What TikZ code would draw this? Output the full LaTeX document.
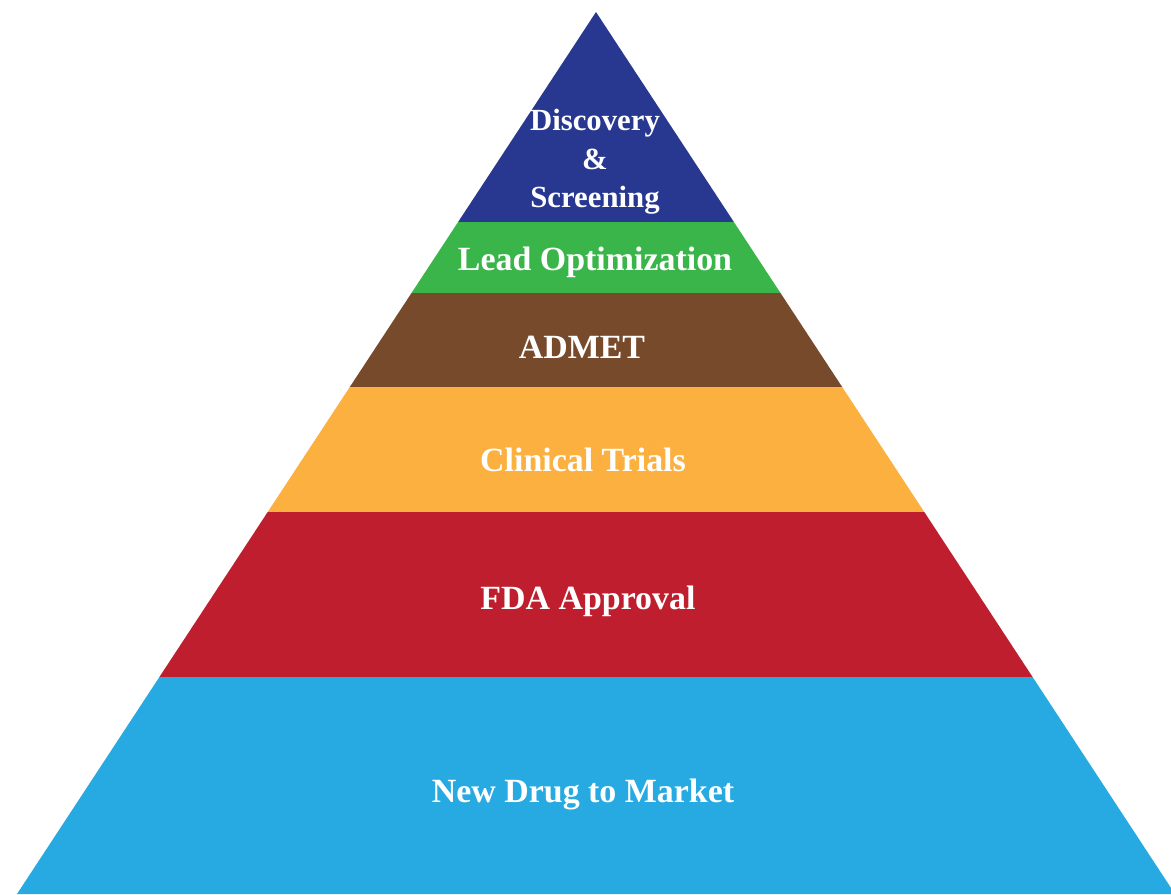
\documentclass[tikz,border=0pt]{standalone}
\usepackage{fontspec}
\setmainfont{Liberation Serif}
\definecolor{discblue}{HTML}{283891}
\definecolor{leadgreen}{HTML}{3AB54A}
\definecolor{admetbrown}{HTML}{774A2B}
\definecolor{trialorange}{HTML}{FBB040}
\definecolor{fdared}{HTML}{BE1E2D}
\definecolor{marketblue}{HTML}{27AAE1}

\begin{document}
\begin{tikzpicture}[x=0.02cm, y=-0.02cm,
    label/.style = {text=white, font=\bfseries\fontsize{19.3}{22}\selectfont, align=center},
    toplabel/.style = {label, font=\bfseries\fontsize{17.5}{21}\selectfont}]
      \useasboundingbox (0,0) rectangle (1171,894);
      \begin{scope}
      \clip (0,0) rectangle (1171,894);
      % layers of the pyramid, top to bottom
      \fill[discblue] (596,12) -- (733.9,222) -- (458.1,222) -- cycle;
      \fill[leadgreen] (458.1,222) -- (733.9,222) -- (780.5,293) -- (411.5,293) -- cycle;
      \fill[admetbrown] (411.5,293) -- (780.5,293) -- (842.2,387) -- (349.8,387) -- cycle;
      \fill[trialorange] (349.8,387) -- (842.2,387) -- (924.3,512) -- (267.7,512) -- cycle;
      \fill[fdared] (267.7,512) -- (924.3,512) -- (1032.6,677) -- (159.4,677) -- cycle;
      \fill[marketblue] (159.4,677) -- (1032.6,677) -- (1175,894) -- (17,894) -- cycle;
      \end{scope}

      \node[toplabel] (disc) at (595,162) {Discovery\\[1pt]\&\\[1pt]Screening};
      \node[label] (lead) at (595,262) {Lead Optimization};
      \node[label] (admet) at (582,347) {ADMET};
      \node[label] (trials) at (583,460) {Clinical Trials};
      \node[label] (fda) at (588,601) {FDA Approval};
      \node[label] (market) at (583,794) {New Drug to Market};
    \end{tikzpicture}
\end{document}
